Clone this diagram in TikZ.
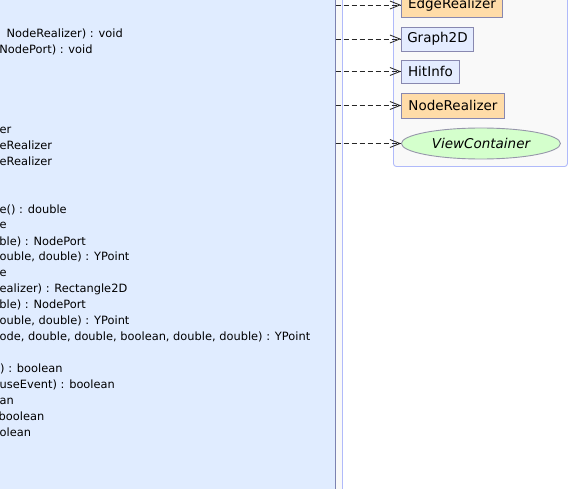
\documentclass[tikz,border=0pt]{standalone}
\usepackage{fontspec}
\setmainfont{DejaVu Sans}
\usepackage{tikz}
\usetikzlibrary{
  arrows.meta,
  shapes.geometric
}
\definecolor{classfill}{RGB}{224,236,255}
\definecolor{classline}{RGB}{124,130,176}
\definecolor{pkgfill}{RGB}{249,249,249}
\definecolor{pkgline}{RGB}{176,186,250}
\definecolor{orangefill}{RGB}{255,220,168}
\definecolor{bluefill}{RGB}{228,236,255}
\definecolor{boxline}{RGB}{136,136,176}
\definecolor{greenfill}{RGB}{212,255,204}
\definecolor{ellline}{RGB}{150,150,170}

\begin{document}
\begin{tikzpicture}[x=1pt,y=-1pt,
  member/.style={anchor=base west, inner sep=0pt,
    font=\fontsize{11.4}{13}\selectfont},
  classbox/.style={draw=boxline, line width=0.9pt, anchor=west,
    minimum height=24pt, inner sep=0pt,
    font=\fontsize{13.5}{16}\selectfont},
  uses/.style={draw=black!85, line width=0.8pt,
    dash pattern=on 5pt off 3pt,
    -{Straight Barb[length=10pt,width=8pt]}}
]
  \useasboundingbox (0,0) rectangle (570,489);
  \clip (0,0) rectangle (570,489);
  \fill[white] (0,0) rectangle (570,489);

  % outer group and the big class
  \node[draw=pkgline, fill=pkgfill, line width=0.9pt, inner sep=0pt,
    minimum width=380pt, minimum height=560pt, anchor=north east]
    (group) at (343.3,-30) {};
  \node[draw=classline, fill=classfill, line width=1pt, inner sep=0pt,
    minimum width=370pt, minimum height=560pt, anchor=north east]
    (view) at (335.5,-30) {};

  % members, cut at the left border
  \node[member] (m1)  at (6.5,37.5)   {NodeRealizer) : void};
  \node[member] (m2)  at (-0.8,53.5)  {NodePort) : void};
  \node[member] (m3)  at (-0.5,133.3) {er};
  \node[member] (m4)  at (-0.5,149.2) {eRealizer};
  \node[member] (m5)  at (-0.5,165.2) {eRealizer};
  \node[member] (m6)  at (-0.5,213.1) {e() : double};
  \node[member] (m7)  at (-0.5,229.0) {e};
  \node[member] (m8)  at (-0.8,245.0) {ble) : NodePort};
  \node[member] (m9)  at (-0.5,260.9) {ouble, double) : YPoint};
  \node[member] (m10) at (-0.5,276.9) {e};
  \node[member] (m11) at (-0.5,292.9) {ealizer) : Rectangle2D};
  \node[member] (m12) at (-0.8,308.8) {ble) : NodePort};
  \node[member] (m13) at (-0.5,324.8) {ouble, double) : YPoint};
  \node[member] (m14) at (-0.5,340.7)
    {ode, double, double, boolean, double, double) : YPoint};
  \node[member] (m15) at (0,372.7)    {) : boolean};
  \node[member] (m16) at (-0.5,388.6) {useEvent) : boolean};
  \node[member] (m17) at (-0.5,404.6) {an};
  \node[member] (m18) at (-1.5,420.5) {boolean};
  \node[member] (m19) at (-0.5,436.5) {olean};

  % package on the right
  \node[draw=pkgline, fill=pkgfill, line width=0.9pt, rounded corners=3pt,
    inner sep=0pt, minimum width=174pt, minimum height=190pt,
    anchor=south west] (panel) at (393,167) {};

  \node[classbox, fill=orangefill, minimum width=101pt]
    (edge) at (401,5) {EdgeRealizer};
  \node[classbox, fill=bluefill, minimum width=72pt]
    (graph) at (401,39) {Graph2D};
  \node[classbox, fill=bluefill, minimum width=58pt, minimum height=23pt]
    (hit) at (401,71.5) {HitInfo};
  \node[classbox, fill=orangefill, minimum width=103pt, minimum height=25pt]
    (noder) at (401,105.5) {NodeRealizer};
  \node[ellipse, draw=ellline, fill=greenfill, line width=0.9pt, inner sep=0pt,
    minimum width=159pt, minimum height=31pt, anchor=west,
    font=\fontsize{13.5}{16}\selectfont\itshape]
    (vc) at (401,143.5) {ViewContainer};

  % dependencies
  \draw[uses] (view.east |- edge.west) -- (edge.west);
  \draw[uses] (view.east |- graph.west) -- (graph.west);
  \draw[uses] (view.east |- hit.west) -- (hit.west);
  \draw[uses] (view.east |- noder.west) -- (noder.west);
  \draw[uses] (view.east |- vc.west) -- (vc.west);

\end{tikzpicture}
\end{document}
